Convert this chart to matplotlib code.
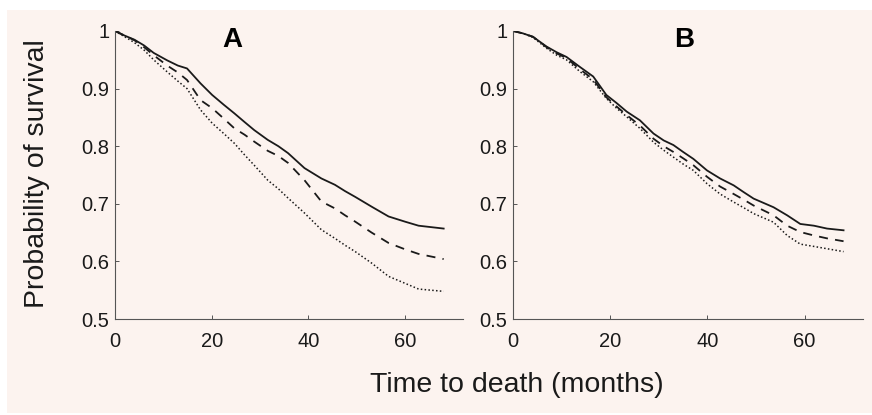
import matplotlib.pyplot as plt
from matplotlib.patches import Rectangle

plt.rcParams["font.family"] = ["Liberation Sans", "DejaVu Sans"]

# panel A
a_t = [0, 2, 4, 6, 8, 10.8, 13, 14.9, 17.7, 20.1, 22.5, 24.7, 26.8, 28.8, 31.6,
       33.8, 35.8, 39.2, 42.7, 45.5, 47.6, 49.7, 53.1, 56.6, 60, 62.8, 68]
a_solid = [1.0, 0.992, 0.985, 0.975, 0.962, 0.949, 0.940, 0.935, 0.909, 0.889,
           0.872, 0.857, 0.842, 0.828, 0.811, 0.800, 0.788, 0.762, 0.744, 0.733,
           0.722, 0.712, 0.695, 0.678, 0.669, 0.662, 0.657]
a_dash = [1.0, 0.992, 0.984, 0.972, 0.958, 0.940, 0.928, 0.915, 0.880, 0.866,
          0.848, 0.831, 0.820, 0.808, 0.792, 0.783, 0.771, 0.741, 0.704, 0.692,
          0.680, 0.669, 0.650, 0.632, 0.621, 0.613, 0.604]
a_dot = [1.0, 0.990, 0.980, 0.967, 0.950, 0.929, 0.913, 0.900, 0.863, 0.840,
         0.822, 0.805, 0.785, 0.767, 0.741, 0.726, 0.710, 0.684, 0.655, 0.640,
         0.628, 0.617, 0.597, 0.574, 0.562, 0.552, 0.548]

# panel B
b_t = [0, 2, 4.1, 6.9, 9, 11, 13.7, 16.5, 19.2, 21.3, 23.4, 26.1, 28.9, 31,
       33, 35, 37.1, 39.9, 42.6, 45.4, 47.5, 49.5, 53.6, 56.4, 59.1, 61.9,
       64.6, 68]
b_solid = [1.0, 0.996, 0.990, 0.973, 0.963, 0.955, 0.938, 0.921, 0.889, 0.875,
           0.860, 0.845, 0.822, 0.810, 0.802, 0.790, 0.778, 0.758, 0.744, 0.732,
           0.720, 0.709, 0.694, 0.680, 0.665, 0.662, 0.657, 0.654]
b_dash = [1.0, 0.996, 0.990, 0.972, 0.961, 0.953, 0.934, 0.916, 0.885, 0.869,
          0.854, 0.836, 0.813, 0.800, 0.790, 0.779, 0.767, 0.747, 0.730, 0.717,
          0.707, 0.697, 0.680, 0.662, 0.651, 0.645, 0.640, 0.635]
b_dot = [1.0, 0.996, 0.989, 0.970, 0.958, 0.950, 0.930, 0.912, 0.883, 0.866,
         0.851, 0.831, 0.807, 0.793, 0.781, 0.769, 0.758, 0.735, 0.717, 0.703,
         0.693, 0.683, 0.668, 0.645, 0.630, 0.626, 0.622, 0.617]

x_ticks = [0, 20, 40, 60]
y_ticks = [0.5, 0.6, 0.7, 0.8, 0.9, 1.0]
y_labels = ["0.5", "0.6", "0.7", "0.8", "0.9", "1"]

bg = "#fcf3ef"
ink = "#1a1a1a"

fig = plt.figure(figsize=(8.72, 4.15), dpi=100)
fig.patch.set_facecolor("white")
fig.patches.append(Rectangle((7 / 872, 0.005), 1, 1 - 10 / 415 - 0.005,
                             transform=fig.transFigure, facecolor=bg,
                             edgecolor="none", zorder=-10))

ax_a = fig.add_axes([115 / 872, 96 / 415, 348 / 872, 288 / 415])
ax_b = fig.add_axes([513 / 872, 96 / 415, 350 / 872, 288 / 415])

panels = [(ax_a, "A", a_t, a_solid, a_dash, a_dot, 232),
          (ax_b, "B", b_t, b_solid, b_dash, b_dot, 684)]

for ax, name, t, s1, s2, s3, title_x in panels:
    ax.set_facecolor("none")
    ax.plot(t, s1, color=ink, lw=1.3, linestyle="-")
    ax.plot(t, s2, color=ink, lw=1.3, linestyle=(0, (5, 4)))
    ax.plot(t, s3, color=ink, lw=1.1, linestyle=(0, (1, 1.5)))

    ax.set_xlim(0, 72)
    ax.set_ylim(0.5, 1.0)
    ax.set_xticks(x_ticks)
    ax.set_yticks(y_ticks)
    ax.set_yticklabels(y_labels)
    ax.spines["top"].set_visible(False)
    ax.spines["right"].set_visible(False)
    for sp in ("left", "bottom"):
        ax.spines[sp].set_color("#555555")
        ax.spines[sp].set_linewidth(0.8)
    ax.tick_params(direction="in", length=3, width=0.7, colors="#555555",
                   labelcolor=ink, labelsize=14.5)
    ax.tick_params(axis="x", pad=9)
    ax.tick_params(axis="y", pad=4)

    fig.text(title_x / 872, 1 - 40 / 415, name, fontsize=20, fontweight="bold",
             ha="center", va="center", color="black")

fig.text(37 / 872, 1 - 174 / 415, "Probability of survival", rotation=90,
         fontsize=20.5, ha="center", va="center", color=ink)
fig.text(517 / 872, 1 - 385 / 415, "Time to death (months)", fontsize=20.5,
         ha="center", va="center", color=ink)

fig.savefig("out.png", dpi=100, facecolor=fig.get_facecolor())
